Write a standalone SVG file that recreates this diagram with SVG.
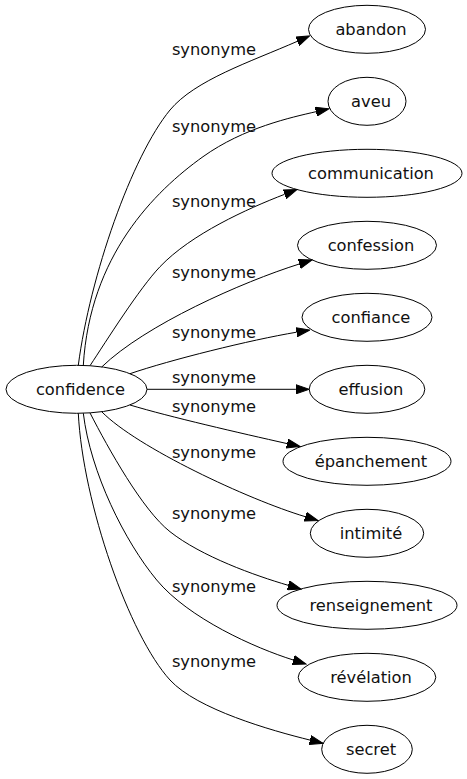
<svg xmlns="http://www.w3.org/2000/svg" width="467" height="779" viewBox="0 0 467 779">
<style>
.n ellipse{fill:none;stroke:#000;stroke-width:1}
.n text,.lbl{font-family:"DejaVu Sans",Verdana,sans-serif;font-size:16.3px;fill:#111;text-anchor:middle}
.e path{fill:none;stroke:#000;stroke-width:1;marker-end:url(#arr)}
</style>
<defs>
<marker id="arr" markerUnits="userSpaceOnUse" viewBox="0 -5 14 10" markerWidth="14" markerHeight="10" refX="0" refY="0" orient="auto">
<path d="M0,-4.6 L13.3,0 L0,4.6 Z" fill="#000" stroke="#000" stroke-width="1"/>
</marker>
</defs>
<rect x="0" y="0" width="467" height="779" fill="#fff"/>
<g id="edges" class="e">
<path d="M78.3,365.3 C90,276 131.8,156.3 170,110 C195,80 250,62 297.4,41.3"/>
<path d="M83.3,365.4 C89.9,255.6 154.2,191.6 203,156.7 C243.7,127.6 291.6,117.3 316,111.7"/>
<path d="M90,365.7 C106.5,340.7 139.3,288.4 160,266.7 C191,234.1 247.3,208.7 284.6,194.3"/>
<path d="M101.7,367 C145,325 242.1,282 299.3,264"/>
<path d="M130,373.7 C170,360 250,340 296.6,332.2"/>
<path d="M147,389.3 L295.9,389.3"/>
<path d="M130,405 C170,417 240,433 287.1,443.6"/>
<path d="M101.7,411.7 C136.7,447.4 247.9,499.4 305.3,516.7"/>
<path d="M90,412.9 C108.4,448.6 142.5,510.1 170,531.7 C201.4,556.4 254.6,575.5 288.2,585.3"/>
<path d="M83.3,413.2 C90.5,472.8 124.8,541.5 156.7,580 C188.6,618.5 255.1,648 293.3,660"/>
<path d="M78.3,413.3 C82.8,503.2 129.4,635.8 170,680 C197,709.5 271.3,730.5 310.1,740.1"/>
<text class="lbl" x="214" y="55">synonyme</text>
<text class="lbl" x="214" y="131.7">synonyme</text>
<text class="lbl" x="214" y="206.5">synonyme</text>
<text class="lbl" x="214" y="277.5">synonyme</text>
<text class="lbl" x="214" y="338.3">synonyme</text>
<text class="lbl" x="214" y="383.3">synonyme</text>
<text class="lbl" x="214" y="411.7">synonyme</text>
<text class="lbl" x="214" y="458.3">synonyme</text>
<text class="lbl" x="214" y="519.3">synonyme</text>
<text class="lbl" x="214" y="591.7">synonyme</text>
<text class="lbl" x="214" y="666.7">synonyme</text>
</g>
<g id="confidence" class="n"><ellipse cx="76.5" cy="389.3" rx="70.5" ry="24"/><text x="80.5" y="395">confidence</text></g>
<g id="abandon" class="n"><ellipse cx="367" cy="29.3" rx="58.5" ry="24"/><text x="371" y="35">abandon</text></g>
<g id="aveu" class="n"><ellipse cx="367" cy="101.3" rx="39" ry="24"/><text x="371" y="107">aveu</text></g>
<g id="communication" class="n"><ellipse cx="367" cy="173.3" rx="95" ry="24"/><text x="371" y="179">communication</text></g>
<g id="confession" class="n"><ellipse cx="367" cy="245.3" rx="69.5" ry="24"/><text x="371" y="251">confession</text></g>
<g id="confiance" class="n"><ellipse cx="367" cy="317.3" rx="65" ry="24"/><text x="371" y="323">confiance</text></g>
<g id="effusion" class="n"><ellipse cx="367" cy="389.3" rx="57.8" ry="24"/><text x="371" y="395">effusion</text></g>
<g id="epanchement" class="n"><ellipse cx="367" cy="461.3" rx="84" ry="24"/><text x="371" y="467">épanchement</text></g>
<g id="intimite" class="n"><ellipse cx="367" cy="533.3" rx="56.7" ry="24"/><text x="371" y="539">intimité</text></g>
<g id="renseignement" class="n"><ellipse cx="367" cy="605.3" rx="90" ry="24"/><text x="371" y="611">renseignement</text></g>
<g id="revelation" class="n"><ellipse cx="367" cy="677.3" rx="68.8" ry="24"/><text x="371" y="683">révélation</text></g>
<g id="secret" class="n"><ellipse cx="367" cy="749.3" rx="45.3" ry="24"/><text x="371" y="755">secret</text></g>
</svg>
